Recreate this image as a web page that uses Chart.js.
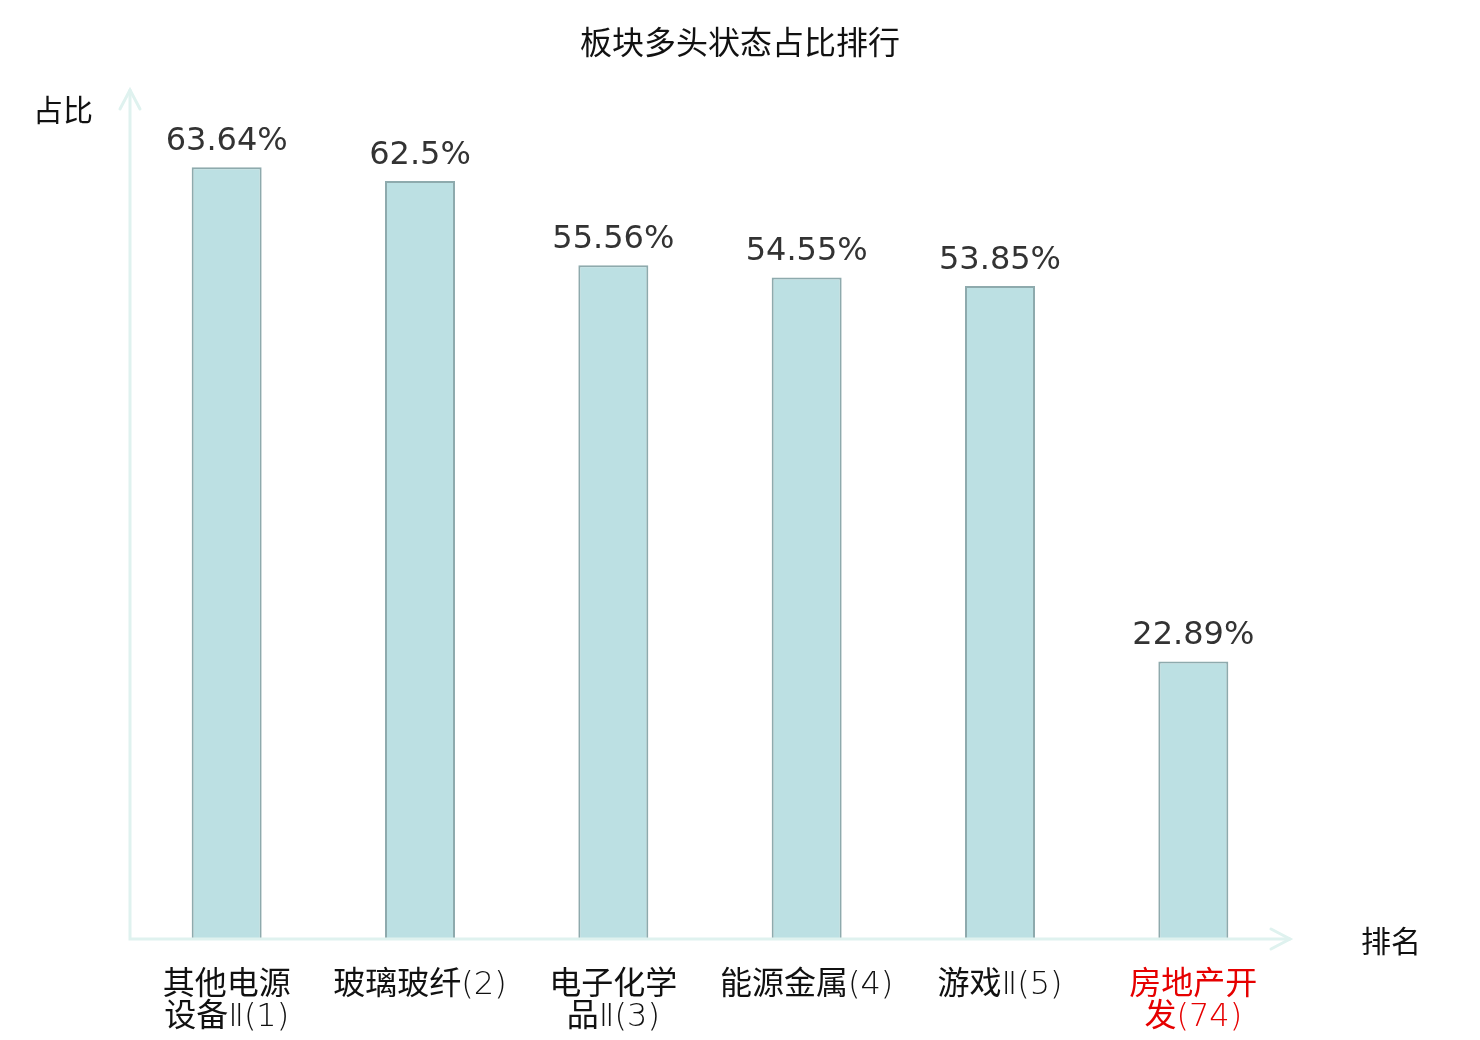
<!DOCTYPE html>
<html lang="zh">
<head>
  <meta charset="UTF-8">
  <title>板块多头状态占比排行</title>
  <script src="https://cdn.jsdelivr.net/npm/chart.js"></script>
<style>
  body { margin: 0; background: #fff; }
  #chart { display: block; }
</style>
</head>
<body>
  <canvas id="chart" width="1480" height="1040" style="width:1480px;height:1040px"></canvas>
  <script>
    // 板块名称、排名与多头占比
    const sectors = ['其他电源设备Ⅱ', '玻璃玻纤', '电子化学品Ⅱ', '能源金属', '游戏Ⅱ', '房地产开发'];
    const ranks = [1, 2, 3, 4, 5, 74];
    const ratios = [63.64, 62.5, 55.56, 54.55, 53.85, 22.89];
    const yMax = 70;

    const cjk = '"Noto Sans CJK SC", "DejaVu Sans", sans-serif';
    const tickFont = '"DejaVu Sans ExtraLight", "DejaVu Sans Light", "Noto Sans CJK SC", sans-serif';
    const axisColor = '#dff2ef';

    // long names wrap every 4 chars, rank goes on the last line
    const labels = sectors.map((name, i) => {
      const tail = '(' + ranks[i] + ')';
      if (name.length <= 4) return name + tail;
      return [name.slice(0, 4), name.slice(4) + tail];
    });

    // axes with arrow heads, axis names, title and value labels
    const decorations = {
      id: 'decorations',
      afterDatasetsDraw(chart) {
        const ctx = chart.ctx;
        const area = chart.chartArea;
        ctx.save();

        ctx.strokeStyle = axisColor;
        ctx.lineWidth = 3;
        ctx.lineCap = 'round';
        ctx.beginPath();
        ctx.moveTo(area.left, area.top);
        ctx.lineTo(area.left, area.bottom);
        ctx.lineTo(area.right, area.bottom);
        ctx.stroke();
        ctx.beginPath();
        ctx.moveTo(area.left - 10, area.top + 19);
        ctx.lineTo(area.left, area.top);
        ctx.lineTo(area.left + 10, area.top + 19);
        ctx.moveTo(area.right - 19, area.bottom - 10);
        ctx.lineTo(area.right, area.bottom);
        ctx.lineTo(area.right - 19, area.bottom + 10);
        ctx.stroke();

        ctx.fillStyle = '#111';
        ctx.textAlign = 'center';
        ctx.textBaseline = 'middle';
        ctx.font = '32px ' + cjk;
        ctx.fillText('板块多头状态占比排行', 740, 42);
        ctx.font = '30px ' + cjk;
        ctx.fillText('占比', 63, 110);
        ctx.fillText('排名', 1391, 941);

        // value labels above bars
        ctx.fillStyle = '#333';
        ctx.font = '32px "DejaVu Sans", sans-serif';
        ctx.textBaseline = 'alphabetic';
        chart.getDatasetMeta(0).data.forEach((bar, i) => {
          ctx.fillText(ratios[i] + '%', bar.x, bar.y - 17);
        });
        ctx.restore();
      }
    };

    new Chart(document.getElementById('chart'), {
      type: 'bar',
      data: {
        labels: labels,
        datasets: [{
          data: ratios,
          backgroundColor: '#bce0e3',
          borderColor: '#8eaaad',
          borderWidth: 2,
          categoryPercentage: 1,
          barPercentage: 0.362
        }]
      },
      options: {
        responsive: false,
        animation: false,
        layout: { padding: { left: 130, right: 190, top: 90, bottom: 0 } },
        plugins: { legend: { display: false }, tooltip: { enabled: false } },
        scales: {
          x: {
            grid: { display: false, drawTicks: false },
            border: { display: false },
            ticks: {
              padding: 31,
              maxRotation: 0,
              autoSkip: false,
              font: { family: tickFont, size: 32, lineHeight: 1 },
              color: (c) => c.index === 5 ? '#e60000' : '#111'
            },
            afterFit(scale) { scale.height = 101; }
          },
          y: { display: false, min: 0, max: yMax }
        }
      },
      plugins: [decorations]
    });
  </script>
</body>
</html>
